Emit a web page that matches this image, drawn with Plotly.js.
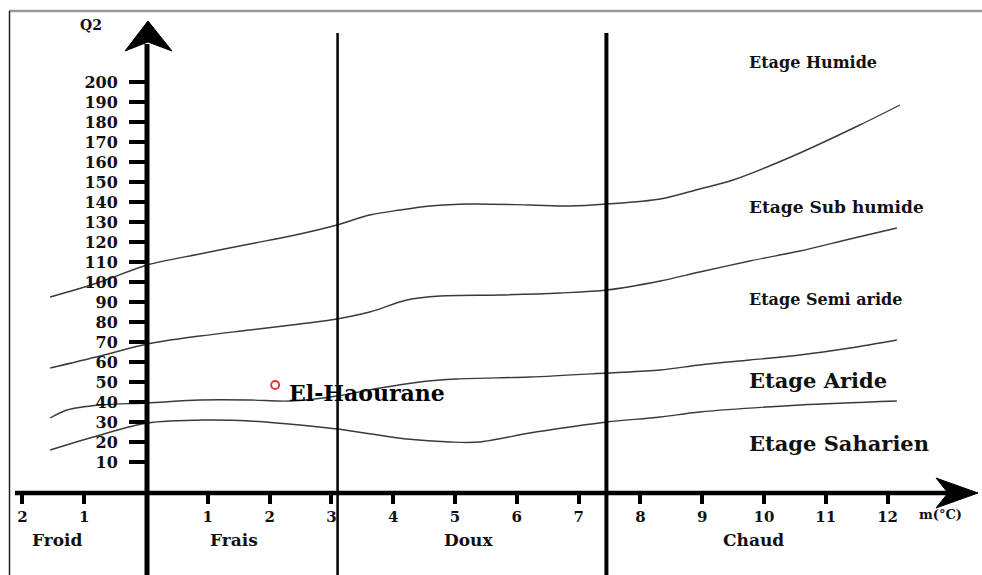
<!DOCTYPE html>
<html>
<head>
<meta charset="utf-8">
<script src="https://cdn.plot.ly/plotly-3.0.1.min.js"></script>
<style>html,body{margin:0;padding:0;background:#fff;}#chart{width:982px;height:575px;}</style>
</head>
<body>
<div id="chart"></div>
<script>
// ---- data (m in °C, Q2) ----
const xTickVals = [-2, -1, 1, 2, 3, 4, 5, 6, 7, 8, 9, 10, 11, 12];
const xTickText = ['2', '1', '1', '2', '3', '4', '5', '6', '7', '8', '9', '10', '11', '12'];
const yTickVals = [10, 20, 30, 40, 50, 60, 70, 80, 90, 100, 110, 120, 130, 140, 150, 160, 170, 180, 190, 200];

const zoneNames = ['Froid', 'Frais', 'Doux', 'Chaud'];
const zoneBounds = [3.1, 7.45];
const etageNames = ['Etage Humide', 'Etage Sub humide', 'Etage Semi aride', 'Etage Aride', 'Etage Saharien'];

// Limit humide / sub-humide
const c1M  = [-1.55, -0.74, 0.02, 0.87, 1.68, 2.49, 3.09, 3.62, 4.11, 4.60, 5.24, 6.21, 6.86, 7.46, 8.32, 8.96, 9.50, 10.47, 11.55, 12.20];
const c1Q2 = [92.5, 100, 108.5, 114, 119, 124, 128.5, 133.5, 136, 138, 139, 138.5, 138, 139, 141.5, 146.5, 151, 163, 178.5, 188.5];
// Limit sub-humide / semi-aride
const c2M  = [-1.55, -0.74, 0.02, 0.87, 1.68, 2.49, 3.09, 3.62, 4.22, 4.76, 5.73, 6.70, 7.46, 8.32, 8.96, 9.77, 10.58, 11.39, 12.15];
const c2Q2 = [57, 63, 69, 73, 76, 79, 81.5, 85, 91, 93, 93.5, 94.5, 96, 100.5, 105, 110.5, 115.5, 121.5, 127];
// Limit semi-aride / aride
const c3M  = [-1.55, -1.28, -0.74, 0.02, 0.87, 1.68, 2.33, 3.09, 3.79, 4.43, 5.03, 6.21, 7.46, 8.32, 8.96, 9.77, 10.58, 11.39, 12.15];
const c3Q2 = [32, 36, 38.5, 39.5, 41, 41, 40.5, 43, 47, 50, 51.5, 52.5, 54.5, 56, 58.5, 61, 63.5, 67, 71];
// Limit aride / saharien
const c4M  = [-1.55, -0.74, 0.02, 0.99, 1.68, 2.49, 3.09, 4.22, 4.92, 5.40, 6.21, 6.86, 7.46, 8.32, 8.96, 10.58, 12.15];
const c4Q2 = [16, 23.5, 29.5, 31, 30.5, 28.5, 26.5, 21.5, 20, 20, 24.5, 27.5, 30, 32.5, 35, 38.5, 40.5];

const siteName = ['El-Haourane'];
const siteM = [2.09];
const siteQ2 = [48.5];

// ---- layout helpers ----
const W = 982, H = 575;
const px = x => x / W;
const py = y => (H - y) / H;
const SERIF = 'DejaVu Serif, Liberation Serif, serif';

const curveStyle = {color: '#3a3a3a', width: 1.4, shape: 'spline', smoothing: 0.9};
const traces = [
  {x: c1M, y: c1Q2, mode: 'lines', line: curveStyle, hoverinfo: 'skip'},
  {x: c2M, y: c2Q2, mode: 'lines', line: curveStyle, hoverinfo: 'skip'},
  {x: c3M, y: c3Q2, mode: 'lines', line: curveStyle, hoverinfo: 'skip'},
  {x: c4M, y: c4Q2, mode: 'lines', line: curveStyle, hoverinfo: 'skip'},
  {x: siteM, y: siteQ2, mode: 'markers', cliponaxis: false,
   marker: {symbol: 'circle-open', size: 8, color: '#e8302a', line: {width: 1.8, color: '#e8302a'}}}
];

function tri(pts) {
  return 'M ' + pts.map(p => px(p[0]) + ',' + py(p[1])).join(' L ') + ' Z';
}

const shapes = [
  // frame
  {type: 'line', xref: 'paper', yref: 'paper', x0: px(9), x1: 1, y0: py(11), y1: py(11), line: {color: '#9a9a9a', width: 2.5}},
  {type: 'line', xref: 'paper', yref: 'paper', x0: px(9.5), x1: px(9.5), y0: py(11), y1: 0, line: {color: '#222', width: 1.5}},
  // axes
  {type: 'line', xref: 'paper', yref: 'paper', x0: px(147), x1: px(147), y0: 0, y1: py(44), line: {color: '#000', width: 5}},
  {type: 'line', xref: 'paper', yref: 'paper', x0: px(15), x1: px(950), y0: py(493), y1: py(493), line: {color: '#000', width: 4.5}},
  {type: 'path', xref: 'paper', yref: 'paper', path: tri([[148, 21], [172, 51], [148, 42], [125, 51]]), fillcolor: '#000', line: {color: '#000', width: 1}},
  {type: 'path', xref: 'paper', yref: 'paper', path: tri([[978, 493], [936, 508], [948, 493], [936, 478]]), fillcolor: '#000', line: {color: '#000', width: 1}}
];
const boundWidths = [2.5, 4];
zoneBounds.forEach((b, i) => shapes.push({
  type: 'line', xref: 'x', yref: 'paper', x0: b, x1: b, y0: 0, y1: py(33),
  line: {color: '#000', width: boundWidths[i]}
}));

const annotations = [];
function txt(text, x, y, size, anchor) {
  annotations.push({text: text, xref: 'paper', yref: 'paper', x: px(x), y: py(y),
    xanchor: anchor || 'left', yanchor: 'middle', showarrow: false, borderpad: 0,
    font: {family: SERIF, size: size, color: '#111', weight: 'bold'}});
}
txt('Q2', 91, 25, 14, 'center');
txt('m(°C)', 918, 514, 13, 'left');
const zoneX = [57, 234, 468, 753];
zoneNames.forEach((z, i) => txt(z, zoneX[i], 540, 17, 'center'));
const etageY = [63, 207, 299, 380, 443];
const etageSize = [16, 17, 16, 21, 21];
etageNames.forEach((e, i) => txt(e, 748, etageY[i], etageSize[i], 'left'));
siteName.forEach((s, i) => annotations.push({
  text: s, xref: 'x', yref: 'y', x: siteM[i], y: siteQ2[i], xanchor: 'left', yanchor: 'middle',
  xshift: 12, yshift: -8, showarrow: false,
  font: {family: SERIF, size: 22, color: '#000', weight: 'bold'}
}));

const layout = {
  width: W, height: H,
  margin: {l: 0, r: 0, t: 0, b: 0, pad: 0},
  paper_bgcolor: '#fff', plot_bgcolor: '#fff',
  showlegend: false,
  xaxis: {
    range: [-146 / 61.8, (W - 146) / 61.8], domain: [0, 1],
    anchor: 'free', position: py(493),
    showgrid: false, zeroline: false, showline: false,
    tickmode: 'array', tickvals: xTickVals, ticktext: xTickText,
    ticks: 'outside', ticklen: 10, tickwidth: 4, tickcolor: '#000',
    tickfont: {family: SERIF, size: 15, color: '#111', weight: 'bold'}, ticklabelstandoff: 0
  },
  yaxis: {
    range: [(482 - H) / 2, 482 / 2], domain: [0, 1],
    anchor: 'free', position: px(147),
    showgrid: false, zeroline: false, showline: false,
    tickmode: 'array', tickvals: yTickVals,
    ticks: 'outside', ticklen: 18, tickwidth: 3.5, tickcolor: '#000',
    tickfont: {family: SERIF, size: 16, color: '#111', weight: 'bold'}, ticklabelstandoff: 8
  },
  shapes: shapes,
  annotations: annotations
};

Plotly.newPlot('chart', traces, layout, {staticPlot: true, displayModeBar: false});
</script>
</body>
</html>
